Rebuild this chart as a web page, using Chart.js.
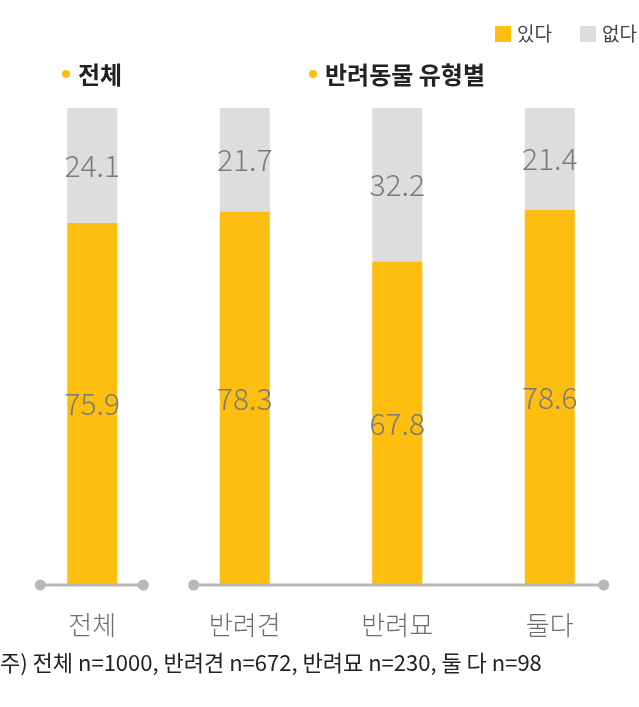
<!DOCTYPE html>
<html><head><meta charset="utf-8">
<script src="https://cdn.jsdelivr.net/npm/chart.js@4"></script>
<style>html,body{margin:0;background:#fff}#wrap{width:639px;height:707px}</style>
</head><body><div id="wrap"><canvas id="c"></canvas></div>
<script>
const categories = ['전체', '반려견', '반려묘', '둘다'];
const yesValues = [75.9, 78.3, 67.8, 78.6];
const noValues = [24.1, 21.7, 32.2, 21.4];
const seriesNames = ['있다', '없다'];
const note = '주) 전체 n=1000, 반려견 n=672, 반려묘 n=230, 둘 다 n=98';
const FONT = "'Noto Sans CJK KR', 'Noto Sans', sans-serif";

const decor = {
    id: 'decor',
    afterDatasetsDraw(chart) {
        const ctx = chart.ctx;
        const x = chart.scales.x, y = chart.scales.y;
        const base = y.getPixelForValue(0);
        ctx.save();
        // value labels
        ctx.font = '300 30px ' + FONT;
        ctx.fillStyle = '#7a7a7a';
        ctx.textAlign = 'center';
        ctx.textBaseline = 'middle';
        categories.forEach((c, i) => {
            const cx = x.getPixelForValue(i);
            ctx.fillText(yesValues[i].toFixed(1), cx, (base + y.getPixelForValue(yesValues[i])) / 2);
            ctx.fillText(noValues[i].toFixed(1), cx, (y.getPixelForValue(yesValues[i]) + y.getPixelForValue(100)) / 2);
        });
        // baselines
        const x0 = x.getPixelForValue(0), x1 = x.getPixelForValue(1), x3 = x.getPixelForValue(3);
        ctx.strokeStyle = '#b8b8b8'; ctx.fillStyle = '#b8b8b8'; ctx.lineWidth = 3;
        [[x0 - 52, x0 + 51], [x1 - 51, x3 + 54]].forEach(([a, b]) => {
            ctx.beginPath(); ctx.moveTo(a, base); ctx.lineTo(b, base); ctx.stroke();
            [a, b].forEach(p => { ctx.beginPath(); ctx.arc(p, base, 5.5, 0, Math.PI * 2); ctx.fill(); });
        });
        // category labels
        ctx.font = '300 26px ' + FONT;
        ctx.fillStyle = '#6e6e6e';
        categories.forEach((c, i) => ctx.fillText(c, x.getPixelForValue(i), 625));
        // footnote
        ctx.font = '22px ' + FONT;
        ctx.fillStyle = '#222';
        ctx.textAlign = 'left';
        ctx.fillText(note, 0, 663);
        // section titles
        ctx.font = 'bold 24px ' + FONT;
        [['전체', 66], ['반려동물 유형별', 313]].forEach(([t, px]) => {
            ctx.fillStyle = '#fdbe10';
            ctx.beginPath(); ctx.arc(px, 74, 4, 0, Math.PI * 2); ctx.fill();
            ctx.fillStyle = '#222';
            ctx.fillText(t, px + 12, 75);
        });
        // legend
        ctx.font = '19px ' + FONT;
        [[seriesNames[0], 495, '#fdbe10'], [seriesNames[1], 580, '#dcdddf']].forEach(([t, px, col]) => {
            ctx.fillStyle = col;
            ctx.fillRect(px, 26, 16, 16);
            ctx.fillStyle = '#444';
            ctx.fillText(t, px + 22, 34);
        });
        ctx.restore();
    }
};

new Chart(document.getElementById('c'), {
    type: 'bar',
    data: {
        labels: categories,
        datasets: [
            { label: seriesNames[0], data: yesValues, backgroundColor: '#fdbe10' },
            { label: seriesNames[1], data: noValues, backgroundColor: '#dcdddf' }
        ]
    },
    options: {
        responsive: true,
        maintainAspectRatio: false,
        animation: false,
        layout: { padding: { left: 16, right: 13, top: 108, bottom: 122 } },
        datasets: { bar: { barPercentage: 0.328, categoryPercentage: 1 } },
        plugins: { legend: { display: false }, tooltip: { enabled: false } },
        scales: {
            x: { stacked: true, display: false },
            y: { stacked: true, display: false, min: 0, max: 100 }
        }
    },
    plugins: [decor]
});
</script></body></html>
